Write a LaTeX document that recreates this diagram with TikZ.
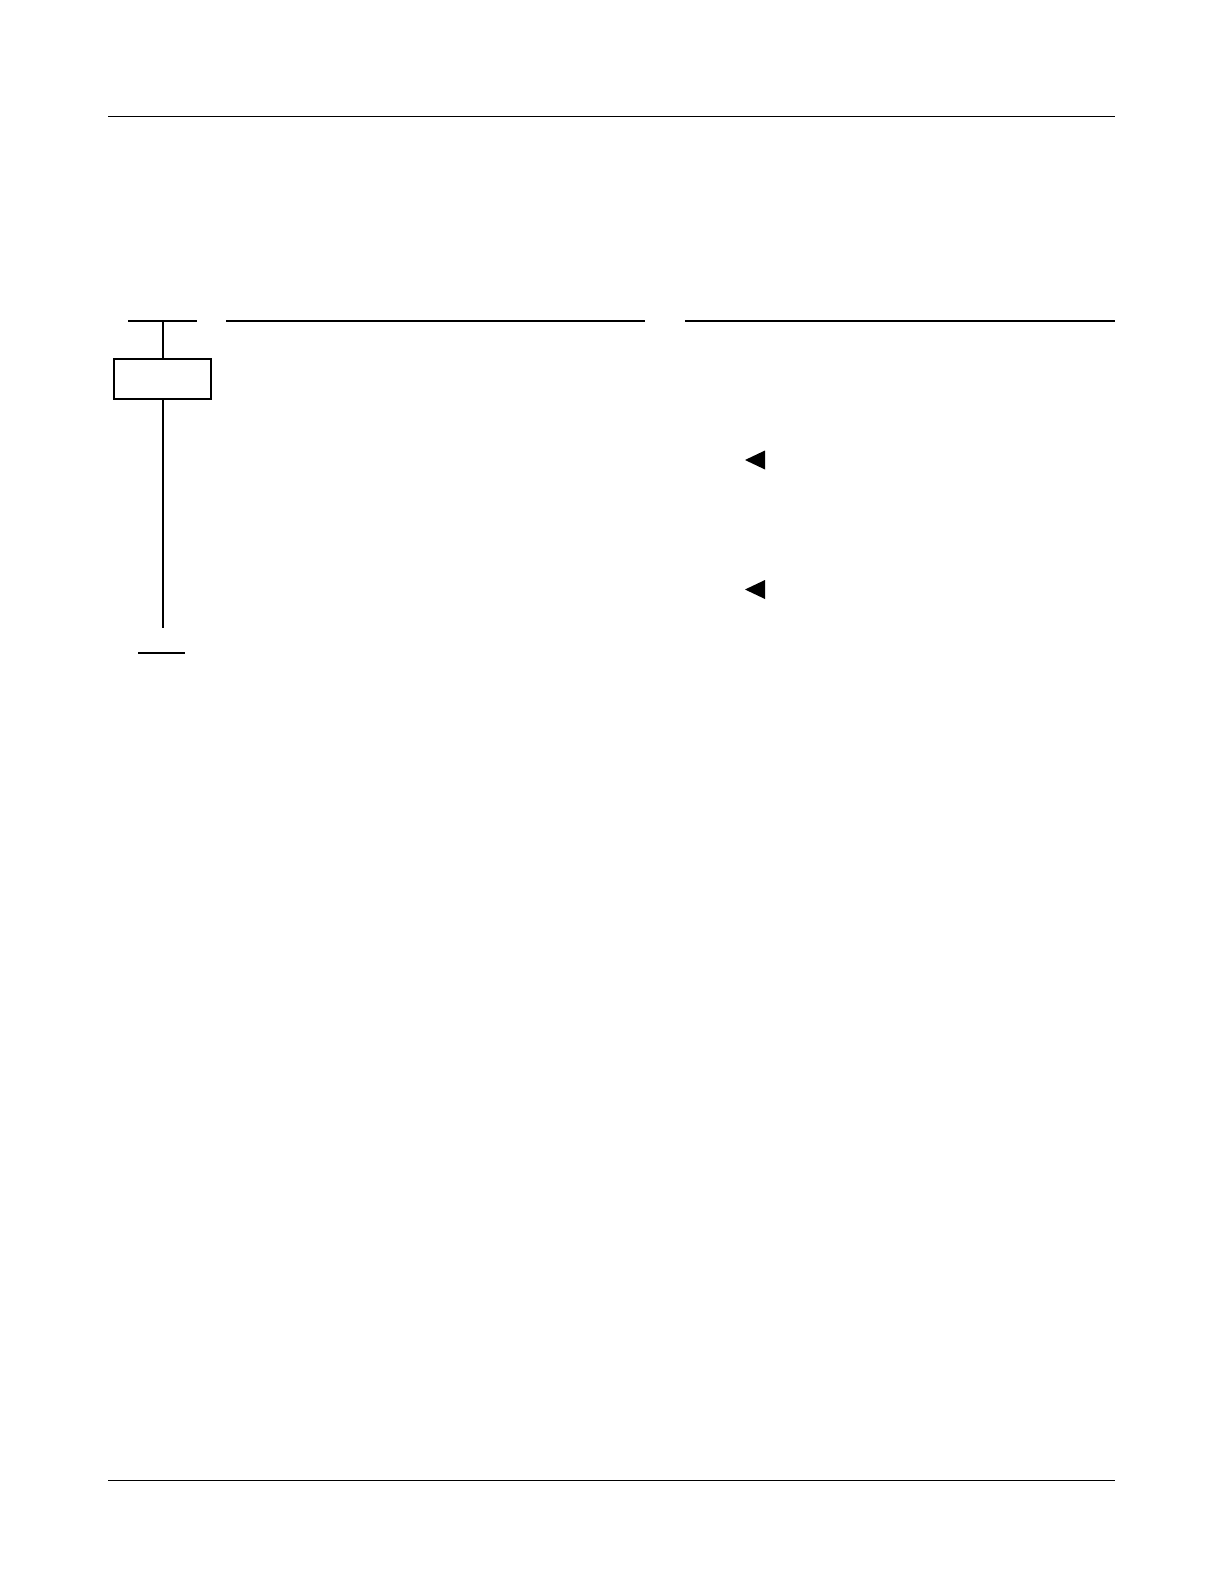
\documentclass[tikz,border=0pt]{standalone}
\usepackage{tikz}
\usetikzlibrary{calc,positioning}
\tikzset{
  rule/.style={line width=1pt},
  bar/.style={line width=2pt},
  blk/.style={rectangle, draw, line width=2pt, minimum width=97pt, minimum height=40pt, inner sep=0pt},
  mark tri/.style={fill=black},
}

\begin{document}
\begin{tikzpicture}[x=1pt, y=-1pt]
  \useasboundingbox (0,0) rectangle (1224,1584);

  % --- Page rules ---
  \coordinate (TL) at (108,117);
  \coordinate (TR) at (1115,117);
  \coordinate (BL) at (108,1480);
  \coordinate (BR) at (1115,1480);
  \draw[rule] (TL)--(TR);
  \draw[rule] (BL)--(BR);

  % --- Column heads ---
  \coordinate (H1a) at (128,321);
  \coordinate (H1b) at (197,321);
  \coordinate (H2a) at (226,321);
  \coordinate (H2b) at (645,321);
  \coordinate (H3a) at (685,321);
  \coordinate (H3b) at (1115,321);
  \draw[bar] (H1a)--(H1b);
  \draw[bar] (H2a)--(H2b);
  \draw[bar] (H3a)--(H3b);

  % --- Life line ---
  \coordinate (top) at (162.5,321);
  \node[blk] (inst) at (162.5,379) {};
  \coordinate (stop) at (162.5,628);
  \draw[bar] (top)--(inst.north);
  \draw[bar] (inst.south)--(stop);

  % End bar
  \coordinate (E1) at (138,653);
  \coordinate (E2) at (185,653);
  \draw[bar] (E1)--(E2);

  % --- Markers ---
  \foreach \y in {460,589.5}
    \fill[mark tri] (745,\y)--(765,\y-9.5)--(765,\y+9.5)--cycle;
\end{tikzpicture}
\end{document}
